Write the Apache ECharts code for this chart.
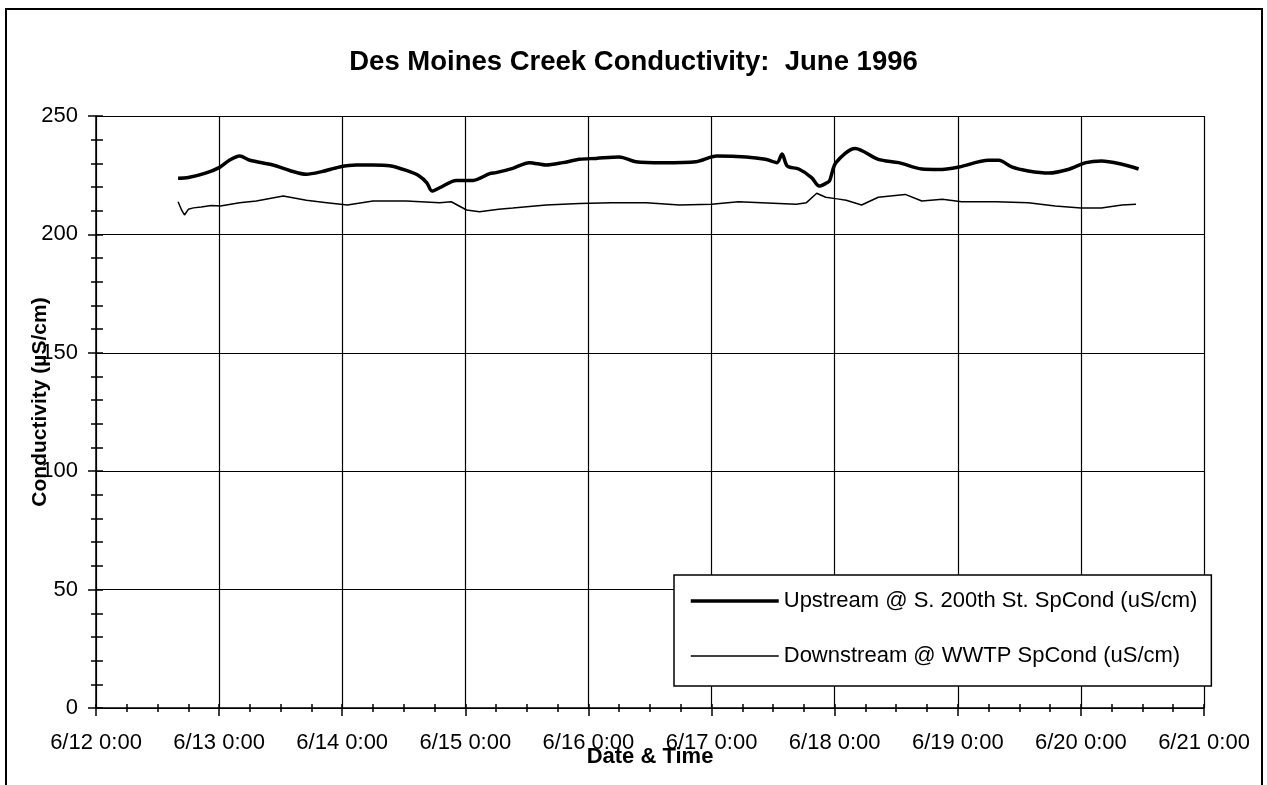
<!DOCTYPE html>
<html>
<head>
<meta charset="utf-8">
<title>Des Moines Creek Conductivity: June 1996</title>
<script src="https://cdn.jsdelivr.net/npm/echarts@6/dist/echarts.min.js"></script>
<style>
  html, body { margin: 0; padding: 0; background: #fff; }
  #chart { width: 1267px; height: 785px; }
</style>
</head>
<body>
<div id="chart"></div>
<script>
// Date/time tick labels for the x axis (one per day)
const tickLabels = ['6/12 0:00', '6/13 0:00', '6/14 0:00', '6/15 0:00', '6/16 0:00',
                    '6/17 0:00', '6/18 0:00', '6/19 0:00', '6/20 0:00', '6/21 0:00'];

// Upstream @ S. 200th St. specific conductance (uS/cm)
const upstreamTime = [
  '6/12 16:00', '6/12 18:00', '6/12 21:30', '6/13 0:00', '6/13 2:00', '6/13 4:00',
  '6/13 6:00', '6/13 10:30', '6/13 13:45', '6/13 17:00', '6/13 20:00', '6/13 23:30',
  '6/14 2:45', '6/14 6:00', '6/14 9:15', '6/14 12:30', '6/14 15:00', '6/14 16:30',
  '6/14 17:30', '6/14 19:00', '6/14 22:15', '6/15 1:30', '6/15 4:45', '6/15 6:00',
  '6/15 9:15', '6/15 12:30', '6/15 15:45', '6/15 19:00', '6/15 22:15', '6/16 1:30',
  '6/16 6:00', '6/16 9:15', '6/16 14:30', '6/16 21:00', '6/17 1:00', '6/17 6:45',
  '6/17 10:30', '6/17 12:45', '6/17 13:45', '6/17 14:45', '6/17 17:00', '6/17 19:30',
  '6/17 21:00', '6/17 22:30', '6/17 23:00', '6/18 0:15', '6/18 4:00', '6/18 8:30',
  '6/18 12:30', '6/18 17:00', '6/18 20:15', '6/19 0:15', '6/19 6:00', '6/19 8:00',
  '6/19 10:30', '6/19 13:45', '6/19 17:45', '6/19 21:30', '6/20 1:00', '6/20 4:00',
  '6/20 8:00', '6/20 11:15'
];
const upstreamValue = [
  223.7, 224.0, 226.0, 228.2, 231.3, 233.1,
  231.3, 229.3, 227.0, 225.4, 226.5, 228.5,
  229.3, 229.3, 229.0, 227.0, 224.7, 221.8,
  218.3, 219.7, 222.8, 222.8, 225.7, 226.1,
  227.9, 230.3, 229.3, 230.3, 231.7, 232.1,
  232.7, 230.7, 230.3, 230.7, 233.1, 232.7,
  231.7, 230.3, 234.0, 228.9, 227.6, 224.0,
  220.4, 221.8, 222.6, 230.3, 236.3, 231.7,
  230.3, 227.6, 227.4, 228.5, 231.3, 231.3,
  228.5, 226.8, 225.9, 227.4, 230.3, 231.0,
  229.6, 227.6
];

// Downstream @ WWTP specific conductance (uS/cm)
const downstreamTime = [
  '6/12 16:00', '6/12 16:45', '6/12 17:15', '6/12 18:00', '6/12 19:00', '6/12 20:30',
  '6/12 22:30', '6/13 0:15', '6/13 4:00', '6/13 7:15', '6/13 12:30', '6/13 17:00',
  '6/13 21:00', '6/14 1:00', '6/14 6:00', '6/14 12:30', '6/14 19:00', '6/14 21:15',
  '6/15 0:15', '6/15 2:45', '6/15 6:30', '6/15 9:15', '6/15 15:45', '6/15 22:15',
  '6/16 4:30', '6/16 11:15', '6/16 17:45', '6/17 0:00', '6/17 5:15', '6/17 9:45',
  '6/17 16:30', '6/17 18:30', '6/17 20:30', '6/17 22:15', '6/18 0:30', '6/18 2:15',
  '6/18 5:15', '6/18 8:30', '6/18 13:45', '6/18 17:00', '6/18 21:00', '6/19 0:45',
  '6/19 7:30', '6/19 13:45', '6/19 19:00', '6/20 0:00', '6/20 4:00', '6/20 8:00',
  '6/20 10:45'
];
const downstreamValue = [
  213.8, 210.0, 208.2, 210.6, 211.2, 211.6,
  212.2, 212.0, 213.4, 214.1, 216.2, 214.4,
  213.4, 212.4, 214.1, 214.1, 213.4, 213.8,
  210.3, 209.6, 210.6, 211.1, 212.4, 213.0,
  213.4, 213.4, 212.4, 212.7, 213.8, 213.4,
  212.7, 213.4, 217.4, 215.7, 215.0, 214.4,
  212.4, 215.7, 216.9, 214.1, 214.8, 213.8,
  213.8, 213.4, 212.0, 211.1, 211.1, 212.4,
  212.7
];

// 'M/D H:MM' -> hours since 6/12 0:00
function toHours(s) {
  const [date, time] = s.split(' ');
  const day = parseInt(date.split('/')[1], 10);
  const [h, m] = time.split(':').map(Number);
  return (day - 12) * 24 + h + m / 60;
}
const pairs = (times, values) => times.map((t, i) => [toHours(t), values[i]]);

const FONT = "'Liberation Sans', Arial, Helvetica, sans-serif";
const BLACK = '#000';
const UP_NAME = 'Upstream @ S. 200th St. SpCond (uS/cm)';
const DOWN_NAME = 'Downstream @ WWTP SpCond (uS/cm)';
const UP_WIDTH = 3.5;
const DOWN_WIDTH = 1.5;

const chart = echarts.init(document.getElementById('chart'), null, { renderer: 'canvas' });

chart.setOption({
  backgroundColor: '#fff',
  animation: false,
  textStyle: { fontFamily: FONT, color: BLACK },
  graphic: [{
    type: 'rect',
    z: -10,
    shape: { x: 6, y: 9, width: 1256, height: 800 },
    style: { fill: 'none', stroke: BLACK, lineWidth: 2 }
  }],
  title: {
    text: 'Des Moines Creek Conductivity:  June 1996',
    left: 'center',
    top: 43,
    textStyle: { fontFamily: FONT, fontSize: 27.5, fontWeight: 'bold', color: BLACK }
  },
  legend: {
    orient: 'vertical',
    left: 674,
    top: 575,
    padding: [15, 14, 19, 15],
    itemWidth: 88,
    itemHeight: 22,
    itemGap: 33,
    itemStyle: { opacity: 0 },
    backgroundColor: '#fff',
    borderColor: BLACK,
    borderWidth: 1.5,
    textStyle: { fontFamily: FONT, fontSize: 22, color: BLACK },
    data: [
      { name: UP_NAME, lineStyle: { width: UP_WIDTH, color: BLACK } },
      { name: DOWN_NAME, lineStyle: { width: DOWN_WIDTH, color: BLACK } }
    ]
  },
  grid: { left: 96, right: 63, top: 116, bottom: 77, containLabel: false },
  xAxis: [{
    type: 'value',
    min: 0, max: 216, interval: 24,
    axisLine: { show: true, lineStyle: { color: BLACK, width: 1.5 } },
    axisTick: { show: true, inside: false, length: 8, lineStyle: { color: BLACK, width: 1.5 } },
    minorTick: { show: true, splitNumber: 4, length: 4, lineStyle: { color: BLACK, width: 1.5 } },
    axisLabel: {
      fontFamily: FONT, fontSize: 22, color: BLACK, margin: 24,
      formatter: v => tickLabels[Math.round(v / 24)]
    },
    splitLine: { show: true, lineStyle: { color: BLACK, width: 1.2 } }
  }, {
    // inner halves of the 6-hour minor ticks; also carries the axis title
    type: 'value',
    position: 'bottom',
    min: 0, max: 216, interval: 6,
    name: 'Date & Time',
    nameLocation: 'middle',
    nameGap: 38,
    nameTextStyle: { fontFamily: FONT, fontSize: 22, fontWeight: 'bold', color: BLACK },
    axisLine: { show: false },
    axisTick: { show: true, inside: true, length: 4, lineStyle: { color: BLACK, width: 1.5 } },
    axisLabel: { show: false },
    splitLine: { show: false }
  }],
  yAxis: [{
    type: 'value',
    min: 0, max: 250, interval: 50,
    axisLine: { show: true, lineStyle: { color: BLACK, width: 1.5 } },
    axisTick: { show: true, inside: false, length: 8, lineStyle: { color: BLACK, width: 1.5 } },
    minorTick: { show: true, splitNumber: 5, length: 5, lineStyle: { color: BLACK, width: 1.5 } },
    axisLabel: { fontFamily: FONT, fontSize: 22, color: BLACK, margin: 18 },
    splitLine: { show: true, lineStyle: { color: BLACK, width: 1.2 } }
  }, {
    // inner halves of the minor ticks every 10 uS/cm; also carries the axis title
    type: 'value',
    position: 'left',
    min: 0, max: 250, interval: 10,
    name: 'Conductivity (µS/cm)',
    nameLocation: 'middle',
    nameGap: 45,
    nameTextStyle: { fontFamily: FONT, fontSize: 21, fontWeight: 'bold', color: BLACK, padding: [0, 0, 0, 20] },
    axisLine: { show: false },
    axisTick: { show: true, inside: true, length: 7, lineStyle: { color: BLACK, width: 1.5 } },
    axisLabel: { show: false },
    splitLine: { show: false }
  }],
  series: [{
    name: UP_NAME,
    type: 'line',
    xAxisIndex: 0, yAxisIndex: 0,
    symbol: 'none',
    smooth: 0.3,
    lineStyle: { color: BLACK, width: UP_WIDTH },
    itemStyle: { color: BLACK },
    data: pairs(upstreamTime, upstreamValue),
    z: 5
  }, {
    name: DOWN_NAME,
    type: 'line',
    xAxisIndex: 0, yAxisIndex: 0,
    symbol: 'none',
    lineStyle: { color: BLACK, width: DOWN_WIDTH },
    itemStyle: { color: BLACK },
    data: pairs(downstreamTime, downstreamValue),
    z: 5
  }]
});
</script>
</body>
</html>
